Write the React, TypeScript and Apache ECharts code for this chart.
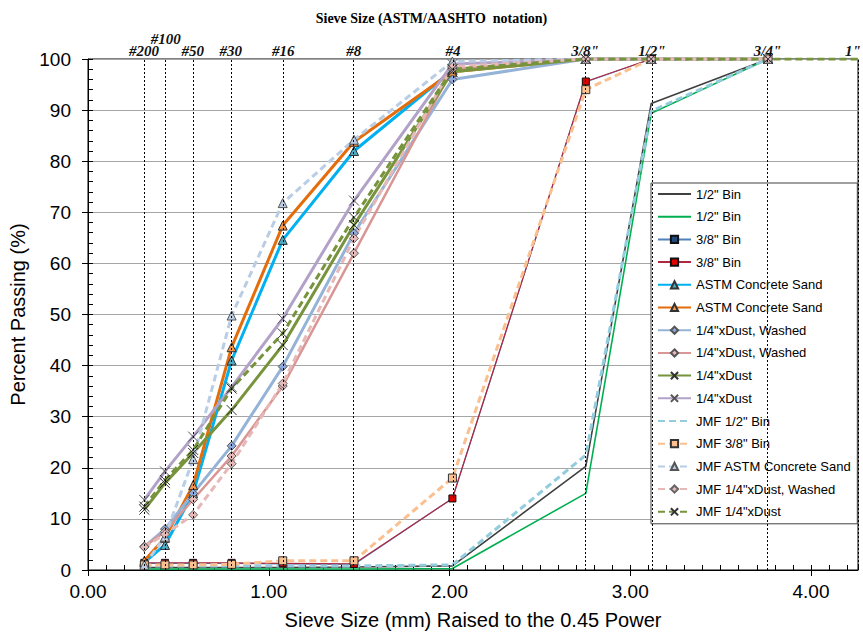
import React, { useEffect, useRef } from 'react';
import * as echarts from 'echarts';

// Sieves (ASTM/AASHTO), opening in mm
const SIEVE_LABELS = ['#200', '#100', '#50', '#30', '#16', '#8', '#4', '3/8"', '1/2"', '3/4"', '1"'];
const SIEVE_MM = [0.075, 0.15, 0.3, 0.6, 1.18, 2.36, 4.75, 9.5, 12.5, 19, 25];
const SIEVE_X = SIEVE_MM.map((d) => Math.pow(d, 0.45));
const X_MAX = 4.26;

// Percent passing per sieve (#200 ... 3/4", optional 1")
const HALF_BIN_A = [0.5, 0.5, 0.5, 0.5, 0.5, 0.6, 0.8, 20.3, 91.3, 100];
const HALF_BIN_B = [0.2, 0.2, 0.2, 0.2, 0.2, 0.2, 0.3, 15.0, 89.4, 100];
const THREE_EIGHTH_A = [1.3, 1.3, 1.3, 1.3, 1.2, 1.1, 14.0, 95.5, 100, 100];
const THREE_EIGHTH_B = [1.4, 1.4, 1.4, 1.4, 1.3, 1.2, 14.0, 95.6, 100, 100];
const ASTM_SAND_A = [1.5, 4.9, 15.0, 41.0, 64.6, 82.0, 97.8, 100, 100, 100];
const ASTM_SAND_B = [1.8, 6.3, 16.6, 43.6, 67.4, 83.8, 97.5, 100, 100, 100];
const DUST_WASHED_A = [4.5, 8.0, 15.0, 24.3, 39.8, 65.9, 96.0, 100, 100, 100];
const DUST_WASHED_B = [4.6, 7.5, 13.8, 22.3, 36.0, 62.0, 98.0, 100, 100, 100];
const DUST_A = [11.8, 17.0, 22.9, 31.3, 44.0, 67.5, 97.5, 100, 100, 100];
const DUST_B = [13.7, 19.3, 26.1, 35.8, 49.2, 72.3, 99.0, 100, 100, 100];
const JMF_HALF_BIN = [0.8, 0.8, 0.8, 0.8, 0.8, 0.8, 1.0, 22.5, 89.8, 100];
const JMF_THREE_EIGHTH = [1.0, 1.0, 1.0, 1.1, 1.8, 1.8, 18.0, 94.0, 100, 100];
const JMF_ASTM_SAND = [1.0, 6.5, 21.7, 49.8, 71.8, 84.2, 99.5, 100, 100, 100];
const JMF_DUST_WASHED = [4.5, 7.0, 10.8, 20.8, 36.5, 64.9, 98.5, 100, 100, 100];
const JMF_DUST = [12.4, 17.6, 23.5, 35.5, 46.3, 69.0, 98.0, 100, 100, 100, 100];

const X_SYMBOL = 'path://M0,0L10,10M0,10L10,0';

type Def = {
  name: string;
  values: number[];
  color: string;
  width: number;
  dashed?: boolean;
  symbol?: string;
  size?: number;
  fill?: string;
  border?: string;
};

const DEFS: Def[] = [
  { name: '1/2" Bin', values: HALF_BIN_A, color: '#404040', width: 1.6 },
  { name: '1/2" Bin ', values: HALF_BIN_B, color: '#00B050', width: 1.6 },
  { name: '3/8" Bin', values: THREE_EIGHTH_A, color: '#4F81BD', width: 1.2, symbol: 'rect', size: 6, fill: '#1F497D', border: '#111' },
  { name: '3/8" Bin ', values: THREE_EIGHTH_B, color: '#B0283F', width: 1.2, symbol: 'rect', size: 7, fill: '#E00000', border: '#111' },
  { name: 'ASTM Concrete Sand', values: ASTM_SAND_A, color: '#00B0F0', width: 3, symbol: 'triangle', size: 9, fill: '#4BACC6', border: '#333' },
  { name: 'ASTM Concrete Sand ', values: ASTM_SAND_B, color: '#E46C0A', width: 3, symbol: 'triangle', size: 9, fill: '#F79646', border: '#333' },
  { name: '1/4"xDust, Washed', values: DUST_WASHED_A, color: '#95B3D7', width: 3, symbol: 'diamond', size: 9, fill: '#8EA9DB', border: '#555' },
  { name: '1/4"xDust, Washed ', values: DUST_WASHED_B, color: '#D99694', width: 2.5, symbol: 'diamond', size: 9, fill: '#E6B9B8', border: '#555' },
  { name: '1/4"xDust', values: DUST_A, color: '#77933C', width: 3, symbol: X_SYMBOL, size: 10, fill: '#333', border: '#333' },
  { name: '1/4"xDust ', values: DUST_B, color: '#B3A2C7', width: 3, symbol: X_SYMBOL, size: 10, fill: '#555', border: '#555' },
  { name: 'JMF 1/2" Bin', values: JMF_HALF_BIN, color: '#93CDDD', width: 3, dashed: true },
  { name: 'JMF 3/8" Bin', values: JMF_THREE_EIGHTH, color: '#FAC090', width: 3, dashed: true, symbol: 'rect', size: 8, fill: '#FAC090', border: '#333' },
  { name: 'JMF ASTM Concrete Sand', values: JMF_ASTM_SAND, color: '#B9CDE5', width: 3, dashed: true, symbol: 'triangle', size: 9, fill: '#B9CDE5', border: '#555' },
  { name: 'JMF 1/4"xDust, Washed', values: JMF_DUST_WASHED, color: '#E6B9B8', width: 3, dashed: true, symbol: 'diamond', size: 9, fill: '#E6B9B8', border: '#666' },
  { name: 'JMF 1/4"xDust', values: JMF_DUST, color: '#77933C', width: 3, dashed: true, symbol: X_SYMBOL, size: 10, fill: '#333', border: '#333' },
];

const SANS = 'Liberation Sans, Arial, sans-serif';
const SERIF = 'Liberation Serif, Times New Roman, serif';

export default function App() {
  const ref = useRef<HTMLDivElement>(null);

  useEffect(() => {
    if (!ref.current) return;
    const chart = echarts.init(ref.current, undefined, { renderer: 'svg' });

    const dataSeries = DEFS.map((d) => ({
      type: 'line',
      name: d.name,
      data: d.values.map((v, i) =>
        i >= 10 ? { value: [SIEVE_X[i], v], symbol: 'none' } : [SIEVE_X[i], v]
      ),
      symbol: d.symbol || 'circle',
      symbolSize: d.size || 1,
      showSymbol: !!d.symbol,
      lineStyle: { color: d.color, width: d.width, type: d.dashed ? [7, 4] : 'solid' },
      itemStyle: d.symbol
        ? { color: d.fill || d.color, borderColor: d.border || d.color, borderWidth: 1 }
        : { color: 'rgba(0,0,0,0)', borderColor: 'rgba(0,0,0,0)', borderWidth: 0 },
      emphasis: { disabled: true },
      silent: true,
      z: 3,
    }));

    const sieveSeries = {
      type: 'line',
      name: 'sieves',
      data: [],
      silent: true,
      z: 2,
      clip: false,
      markLine: {
        silent: true,
        symbol: ['none', 'none'],
        animation: false,
        lineStyle: { color: '#000', width: 1, type: [2, 2] },
        label: {
          show: true,
          position: 'end',
          formatter: '{b}',
          fontFamily: SERIF,
          fontStyle: 'italic',
          fontWeight: 'bold',
          fontSize: 15,
          color: '#111',
          distance: 1,
        },
        emphasis: { disabled: true },
        data: SIEVE_X.map((x, i) => ({
          xAxis: x,
          name: SIEVE_LABELS[i],
          label: i === 1 ? { distance: 13 } : i === 10 ? { offset: [-5, 0] } : {},
        })),
      },
    };

    chart.setOption({
      animation: false,
      title: {
        text: 'Sieve Size (ASTM/AASHTO  notation)',
        left: 'center',
        top: 6,
        textStyle: { fontFamily: SERIF, fontWeight: 'bold', fontSize: 14, color: '#000' },
      },
      grid: {
        left: 88,
        right: 5,
        top: 59,
        bottom: 64,
        show: true,
        borderColor: '#000',
        borderWidth: 1,
        backgroundColor: 'transparent',
      },
      legend: {
        orient: 'vertical',
        left: 651,
        top: 183,
        data: DEFS.map((d) => d.name),
        formatter: (n: string) => n.trim(),
        itemWidth: 33,
        itemHeight: 9,
        itemGap: 8.7,
        padding: [4, 6, 5, 6],
        backgroundColor: '#fff',
        borderColor: '#404040',
        borderWidth: 1,
        borderRadius: 0,
        textStyle: { fontFamily: SANS, fontSize: 13, color: '#000', lineHeight: 14 },
        selectedMode: false,
      },
      xAxis: [
        {
          type: 'value',
          min: 0,
          max: X_MAX,
          interval: 1,
          position: 'bottom',
          axisLine: { show: true, lineStyle: { color: '#000', width: 1 } },
          axisTick: { show: true, inside: false, length: 6, lineStyle: { color: '#000' } },
          axisLabel: {
            formatter: (v: number) => (Math.abs(v - Math.round(v)) < 1e-6 ? v.toFixed(2) : ''),
            fontFamily: SANS,
            fontSize: 19,
            color: '#000',
            margin: 12,
            showMaxLabel: false,
          },
          splitLine: { show: false },
          name: 'Sieve Size (mm) Raised to the 0.45 Power',
          nameLocation: 'middle',
          nameGap: 40,
          nameTextStyle: { fontFamily: SANS, fontSize: 20, color: '#000' },
        },
        {
          type: 'value',
          min: 0,
          max: X_MAX,
          interval: 0.1,
          position: 'bottom',
          axisLine: { show: false },
          axisTick: { show: true, inside: true, length: 5, lineStyle: { color: '#000' } },
          axisLabel: { show: false },
          splitLine: { show: false },
        },
      ],
      yAxis: [
        {
          type: 'value',
          min: 0,
          max: 100,
          interval: 10,
          position: 'left',
          axisLine: { show: true, lineStyle: { color: '#000', width: 1 } },
          axisTick: { show: true, inside: false, length: 6, lineStyle: { color: '#000' } },
          axisLabel: { fontFamily: SANS, fontSize: 19, color: '#000', margin: 17 },
          splitLine: { show: true, lineStyle: { color: '#A6A6A6', width: 1 } },
          name: 'Percent Passing (%)',
          nameLocation: 'middle',
          nameGap: 56,
          nameTextStyle: { fontFamily: SANS, fontSize: 20, color: '#000' },
        },
        {
          type: 'value',
          min: 0,
          max: 100,
          interval: 2,
          position: 'left',
          axisLine: { show: false },
          axisTick: { show: true, inside: true, length: 5, lineStyle: { color: '#000' } },
          axisLabel: { show: false },
          splitLine: { show: false },
        },
      ],
      series: [sieveSeries, ...dataSeries],
    });

    return () => chart.dispose();
  }, []);

  return (
    <div
      ref={ref}
      style={{ position: 'fixed', left: 0, top: 0, width: 863, height: 635, background: '#fff' }}
    />
  );
}
